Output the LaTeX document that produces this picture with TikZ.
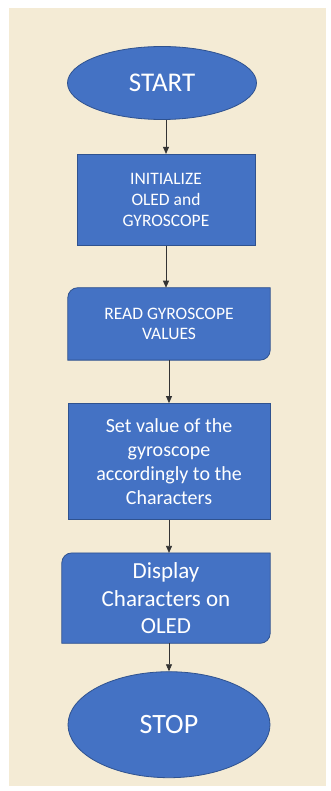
\documentclass[tikz,border=0pt]{standalone}
\usepackage{fontspec}
\setmainfont{Carlito}
\usetikzlibrary{arrows.meta,positioning,shapes.geometric}
\definecolor{parchment}{HTML}{F4EBD5}
\definecolor{officeblue}{HTML}{4472C4}
\definecolor{officeedge}{HTML}{2F528F}

\begin{document}
\begin{tikzpicture}[
  x=1pt, y=-1pt,
  node distance=34pt,
  term/.style={ellipse, draw=officeedge, fill=officeblue, line width=0.8pt,
               text=white, inner sep=0pt, font=\fontsize{27}{32}\selectfont},
  proc/.style={rectangle, draw=officeedge, fill=officeblue, line width=0.8pt,
               text=white, align=center, inner sep=0pt},
  tilt/.style={rectangle, align=center, inner sep=0pt, text=white},
  tiltfill/.style={draw=officeedge, fill=officeblue, line width=0.8pt},
  arr/.style={-{Triangle[length=7pt,width=6pt]}, black!80, line width=0.7pt}]
% page and paper
\useasboundingbox (0,0) rectangle (331,791);
\fill[parchment] (9,8) rectangle (326,786);
% nodes
\node[term, minimum width=189pt, minimum height=73pt] (start) at (162,83) {START};
\node[proc, minimum width=178pt, minimum height=91pt, below=34pt of start, xshift=4pt,
      font=\fontsize{17.5}{21}\selectfont] (init) {INITIALIZE\\OLED and\\GYROSCOPE};
\node[tilt, minimum width=202pt, minimum height=72pt, below=42pt of init, xshift=3pt,
      font=\fontsize{17.5}{20.5}\selectfont] (read) {};
\node[proc, minimum width=202pt, minimum height=116pt, below=43pt of read,
      font=\fontsize{20}{24}\selectfont] (set)
      {Set value of the\\gyroscope\\accordingly to the\\Characters};
\node[tilt, minimum width=208pt, minimum height=90pt, below=33pt of set, xshift=-3pt,
      font=\fontsize{23}{27.5}\selectfont] (disp) {};
\node[term, minimum width=202pt, minimum height=106pt, below=28pt of disp, xshift=3pt,
      font=\fontsize{28}{33}\selectfont] (stop) {STOP};
% shapes with two rounded corners
\draw[tiltfill] (read.south west) [rounded corners=10pt] -- (read.north west) [sharp corners]
  -- (read.north east) [rounded corners=10pt] -- (read.south east) [sharp corners] -- cycle;
\draw[tiltfill] (disp.south west) [rounded corners=10pt] -- (disp.north west) [sharp corners]
  -- (disp.north east) [rounded corners=10pt] -- (disp.south east) [sharp corners] -- cycle;
\node[tilt, font=\fontsize{17.5}{20.5}\selectfont] (readtext) at (read) {READ GYROSCOPE\\VALUES};
\node[tilt, font=\fontsize{23}{27.5}\selectfont] (disptext) at (disp) {Display\\Characters on\\OLED};
% arrows
\draw[arr] (start.south -| init) -- (init.north);
\draw[arr] (init.south) -- (init.south |- read.north);
\draw[arr] (read.south) -- (set.north);
\draw[arr] (set.south) -- (set.south |- disp.north);
\draw[arr] (disp.south -| stop) -- (stop.north);
\end{tikzpicture}
\end{document}
